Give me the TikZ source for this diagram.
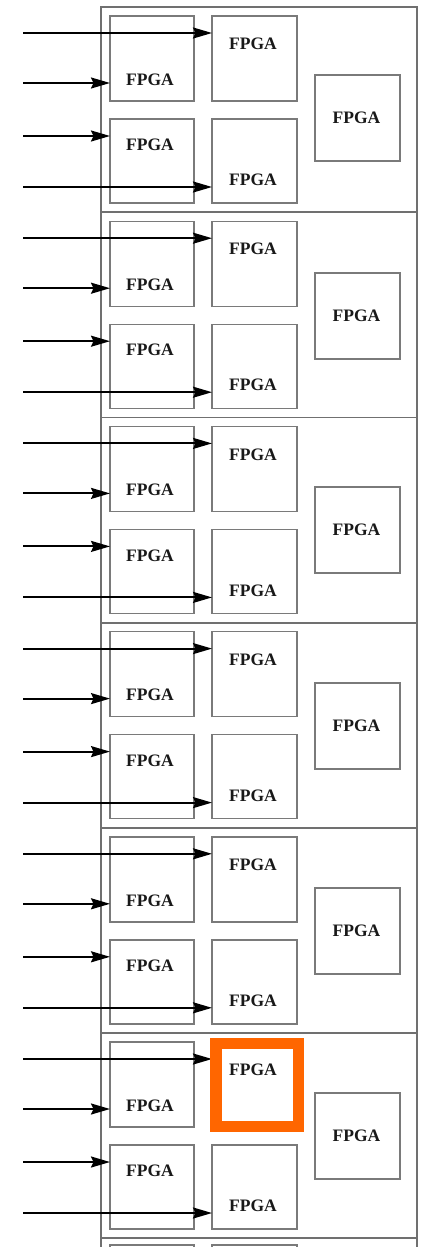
\documentclass[tikz,border=0pt]{standalone}
\usepackage{fontspec}
\setmainfont{Liberation Serif}
\usetikzlibrary{arrows.meta,calc}
\definecolor{framegray}{HTML}{707070}
\definecolor{boxgray}{HTML}{7A7A7A}
\definecolor{hl}{HTML}{FF6600}
\tikzset{
  fpgabox/.style={draw=boxgray, line width=1.4pt, inner sep=0pt, outer sep=0pt, fill=none},
  fpgatext/.style={font=\fontsize{17.5}{17.5}\selectfont\bfseries, text=black!90, inner sep=0pt},
  frameline/.style={draw=framegray, line width=1.8pt},
  arr/.style={draw=black, line width=2pt, -{Stealth[length=19pt,width=11pt,inset=2.5pt]}},
}
\begin{document}
\begin{tikzpicture}[x=1pt,y=-1pt]
\useasboundingbox (0,0) rectangle (427,1247);
\clip (0,0) rectangle (427,1247);
\fill[white] (0,0) rectangle (427,1247);
% outer frame
\coordinate (ftl) at (101,7);
\coordinate (ftr) at (417,7);
\coordinate (fbl) at (101,1260);
\coordinate (fbr) at (417,1260);
\draw[frameline] (fbl) -- (ftl) -- (ftr) -- (fbr);
\foreach \s/\et in {0/75,1/273,2/487,3/683,4/888,5/1093}{
  \pgfmathsetmacro{\t}{7+205.2*\s}
  % divider
  \ifnum\s>0
    \coordinate (dl\s) at (101,\t);
    \coordinate (dr\s) at (417,\t);
    \draw[frameline] (dl\s) -- (dr\s);
  \fi
  % boxes
  \node[fpgabox, minimum width=84pt, minimum height=85pt, anchor=north west] (A\s) at (110,\t+9) {};
  \node[fpgabox, minimum width=85pt, minimum height=85pt, anchor=north west] (B\s) at (212,\t+9) {};
  \node[fpgabox, minimum width=84pt, minimum height=84pt, anchor=north west] (C\s) at (110,\t+112) {};
  \node[fpgabox, minimum width=85pt, minimum height=84pt, anchor=north west] (D\s) at (212,\t+112) {};
  \node[fpgabox, minimum width=85pt, minimum height=86pt, anchor=north west] (E\s) at (315,\et) {};
  % labels
  \node[fpgatext] (tA\s) at (150,\t+72.5) {FPGA};
  \node[fpgatext] (tB\s) at (253,\t+37) {FPGA};
  \node[fpgatext] (tC\s) at (150,\t+138) {FPGA};
  \node[fpgatext] (tD\s) at (253,\t+173) {FPGA};
  \node[fpgatext] (tE\s) at ($(E\s.center)+(-1,0)$) {FPGA};
  % arrows
  \coordinate (a1\s) at (23,\t+26);
  \coordinate (a2\s) at (23,\t+76);
  \coordinate (a3\s) at (23,\t+129);
  \coordinate (a4\s) at (23,\t+180);
  \draw[arr] (a1\s) -- (a1\s -| B\s.west);
  \draw[arr] (a2\s) -- (a2\s -| A\s.west);
  \draw[arr] (a3\s) -- (a3\s -| C\s.west);
  \draw[arr] (a4\s) -- (a4\s -| D\s.west);
}
% partial seventh section
\coordinate (dl6) at (101,1238);
\coordinate (dr6) at (417,1238);
\draw[frameline] (dl6) -- (dr6);
\node[fpgabox, minimum width=84pt, minimum height=85pt, anchor=north west] (A6) at (110,1245) {};
\node[fpgabox, minimum width=85pt, minimum height=85pt, anchor=north west] (B6) at (212,1245) {};
% highlight
\draw[hl, line width=11.5pt] ($(B5.north west)+(4,1.5)$) rectangle ($(B5.south east)+(1.5,-0.5)$);
\end{tikzpicture}
\end{document}
